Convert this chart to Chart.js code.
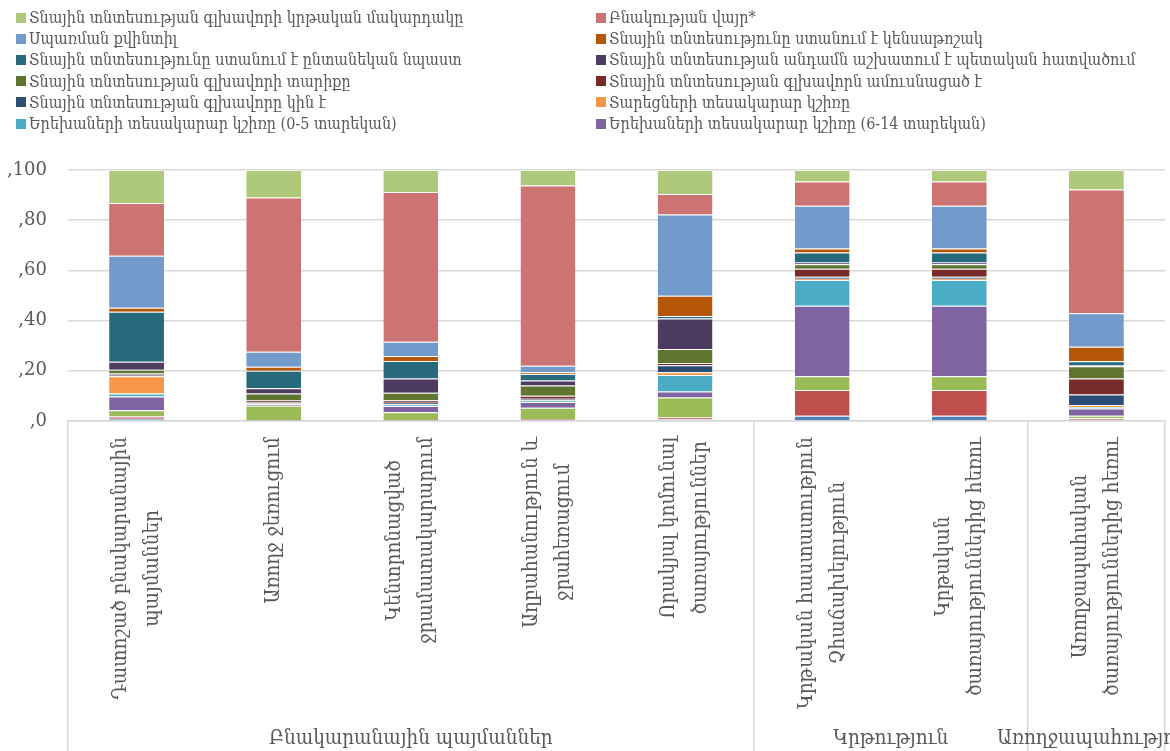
<!DOCTYPE html>
<html>
<head>
<meta charset="utf-8">
<script src="https://cdn.jsdelivr.net/npm/chart.js@4.4.1/dist/chart.umd.min.js"></script>
<style>
html, body { margin: 0; padding: 0; background: #fff; }
#wrap { position: relative; width: 1170px; height: 751px; overflow: hidden; }
#legend {
  position: absolute; left: 16px; top: 7px;
  display: grid; grid-template-columns: 580px 574px;
  font-family: "DejaVu Serif Condensed", "DejaVu Serif", serif; font-size: 16px; color: #595959;
}
#legend .item { display: flex; align-items: center; height: 21.2px; white-space: nowrap; }
#legend .box { width: 10px; height: 10px; margin-right: 3px; flex: none; }
</style>
</head>
<body>
<div id="wrap">
  <canvas id="c" width="1170" height="751"></canvas>
  <div id="legend"></div>
</div>
<script>
// kategorianer (x arancq), toghery
var categories = [
  ['Դատոշած բնակարանային', 'պայմաններ'],
  ['Առողջ ջեռուցում'],
  ['Կենտրոնացված', 'ջրամատակարարում'],
  ['Աղբահանություն և', 'ջրահեռացում'],
  ['Որակյալ կոմունալ', 'ծառայություններ'],
  ['Կրթական հաստատություն', 'Չհաճախելություն'],
  ['Կրթական', 'ծառայություններից հեռու'],
  ['Առողջապահական', 'ծառայություններից հեռու']
];
var groupLabels = ['Բնակարանային պայմաններ', 'Կրթություն', 'Առողջապահություն'];
var groupSizes = [5, 2, 1];

// serianer, nerqevic verev (stack order)
var seriesNames = [
  '', '', '',
  'Երեխաների տեսակարար կշիռը (6-14 տարեկան)',
  'Երեխաների տեսակարար կշիռը (0-5 տարեկան)',
  'Տարեցների տեսակարար կշիռը',
  'Տնային տնտեսության գլխավորը կին է',
  'Տնային տնտեսության գլխավորն ամուսնացած է',
  'Տնային տնտեսության գլխավորի տարիքը',
  'Տնային տնտեսության անդամն աշխատում է պետական հատվածում',
  'Տնային տնտեսությունը ստանում է ընտանեկան նպաստ',
  'Տնային տնտեսությունը ստանում է կենսաթոշակ',
  'Սպառման քվինտիլ',
  'Բնակության վայր*',
  'Տնային տնտեսության գլխավորի կրթական մակարդակը'
];
var seriesColors = [
  '#4F81BD', '#C0504D', '#9BBB59', '#8064A2', '#4BACC6', '#F79646',
  '#2C4D75', '#772C2A', '#5F7530', '#4D3B62', '#276A7C', '#B65708',
  '#729ACA', '#CD7371', '#AFC97A'
];
// bazhin, % (mek tox = mek seria, 8 kategoria)
var shares = [
  [0.9, 0.2, 0.2, 0.4, 0.7, 2.1, 2.1, 0.5],
  [0.9, 0.2, 0.2, 0.4, 0.7, 10.3, 10.3, 0.6],
  [2.5, 5.7, 3.1, 4.5, 8.0, 5.4, 5.4, 1.0],
  [5.5, 0.6, 2.5, 2.3, 2.4, 28.1, 28.1, 2.9],
  [1.2, 0.3, 0.6, 0.5, 6.5, 10.3, 10.3, 0.6],
  [6.8, 0.3, 0.2, 0.2, 1.1, 0.5, 0.5, 0.8],
  [0.6, 0.3, 0.5, 0.6, 2.8, 0.8, 0.8, 4.2],
  [0.5, 0.6, 1.0, 1.2, 0.9, 3.2, 3.2, 6.3],
  [1.5, 2.8, 3.0, 4.0, 5.6, 1.8, 1.8, 4.9],
  [3.2, 2.0, 5.6, 2.0, 12.1, 0.6, 0.6, 0.5],
  [19.9, 7.0, 7.0, 2.6, 1.0, 4.0, 4.0, 1.5],
  [1.6, 1.6, 2.0, 0.7, 8.1, 1.6, 1.6, 5.8],
  [20.7, 6.0, 5.7, 2.6, 32.4, 17.1, 17.1, 13.3],
  [21.1, 61.4, 59.6, 71.8, 8.1, 9.6, 9.6, 49.3],
  [13.1, 11.0, 8.8, 6.2, 9.6, 4.6, 4.6, 7.8]
];

var FONT = '"DejaVu Serif Condensed", "DejaVu Serif", serif';
var labelSize = 20.5;
var labelLine = 32;
var textColor = '#595959';
var lineColor = '#d9d9d9';

// xmbi sahmanneri indeqsner
var bounds = [0];
groupSizes.forEach(function (n) { bounds.push(bounds[bounds.length - 1] + n); });

var labelPlugin = {
  id: 'catLabels',
  afterDraw: function (chart) {
    var ctx = chart.ctx, x = chart.scales.x;
    ctx.save();
    ctx.fillStyle = textColor;
    ctx.font = labelSize + 'px ' + FONT;
    categories.forEach(function (lines, i) {
      var px = x.getPixelForValue(i);
      var maxW = Math.max.apply(null, lines.map(function (l) { return ctx.measureText(l).width; }));
      ctx.save();
      ctx.translate(px, x.top + 16);
      ctx.rotate(-Math.PI / 2);
      ctx.textAlign = 'center';
      ctx.textBaseline = 'middle';
      lines.forEach(function (l, j) {
        ctx.fillText(l, -maxW / 2, (j - (lines.length - 1) / 2) * labelLine);
      });
      ctx.restore();
    });
    ctx.textAlign = 'center';
    ctx.textBaseline = 'middle';
    groupLabels.forEach(function (g, k) {
      var left = x.getPixelForValue(bounds[k] - 0.5);
      var right = x.getPixelForValue(bounds[k + 1] - 0.5);
      ctx.fillText(g, (left + right) / 2, x.bottom - 12);
    });
    ctx.restore();
  }
};

var datasets = seriesNames.map(function (name, i) {
  return {
    label: name,
    data: shares[i],
    backgroundColor: seriesColors[i],
    borderColor: 'rgba(255,255,255,0.35)',
    borderWidth: { top: 1, bottom: 0, left: 0, right: 0 },
    borderSkipped: false,
    barPercentage: 0.4,
    categoryPercentage: 1.0
  };
});

var chart = new Chart(document.getElementById('c').getContext('2d'), {
  type: 'bar',
  data: { labels: categories, datasets: datasets },
  options: {
    responsive: false,
    animation: false,
    layout: { padding: { top: 170, right: 5, left: 0, bottom: 0 } },
    plugins: { legend: { display: false }, tooltip: { enabled: false } },
    scales: {
      x: {
        stacked: true,
        offset: true,
        ticks: { display: false },
        grid: {
          offset: true,
          drawOnChartArea: false,
          drawTicks: true,
          tickLength: 330,
          lineWidth: 1.5,
          color: function (c) {
            if (c.type !== 'tick') return lineColor;
            return bounds.indexOf(c.index) >= 0 ? lineColor : 'rgba(0,0,0,0)';
          }
        },
        border: { display: true, color: lineColor, width: 1.5 },
        afterFit: function (s) { s.height = 330; }
      },
      y: {
        stacked: true,
        min: 0,
        max: 100,
        ticks: {
          stepSize: 20,
          padding: 21,
          color: textColor,
          font: { family: '"DejaVu Serif"', size: 18 },
          callback: function (v) { return ',' + v; }
        },
        grid: { color: lineColor, lineWidth: 1.5, drawTicks: false },
        border: { display: false },
        afterFit: function (s) { s.width = 68; }
      }
    }
  },
  plugins: [labelPlugin]
});

// HTML legend, hakadardz kargov, 2 syun
var legendEl = document.getElementById('legend');
chart.data.datasets.slice().reverse().forEach(function (ds) {
  if (!ds.label) return;
  var item = document.createElement('div');
  item.className = 'item';
  var box = document.createElement('span');
  box.className = 'box';
  box.style.background = ds.backgroundColor;
  item.appendChild(box);
  item.appendChild(document.createTextNode(ds.label));
  legendEl.appendChild(item);
});
</script>
</body>
</html>
